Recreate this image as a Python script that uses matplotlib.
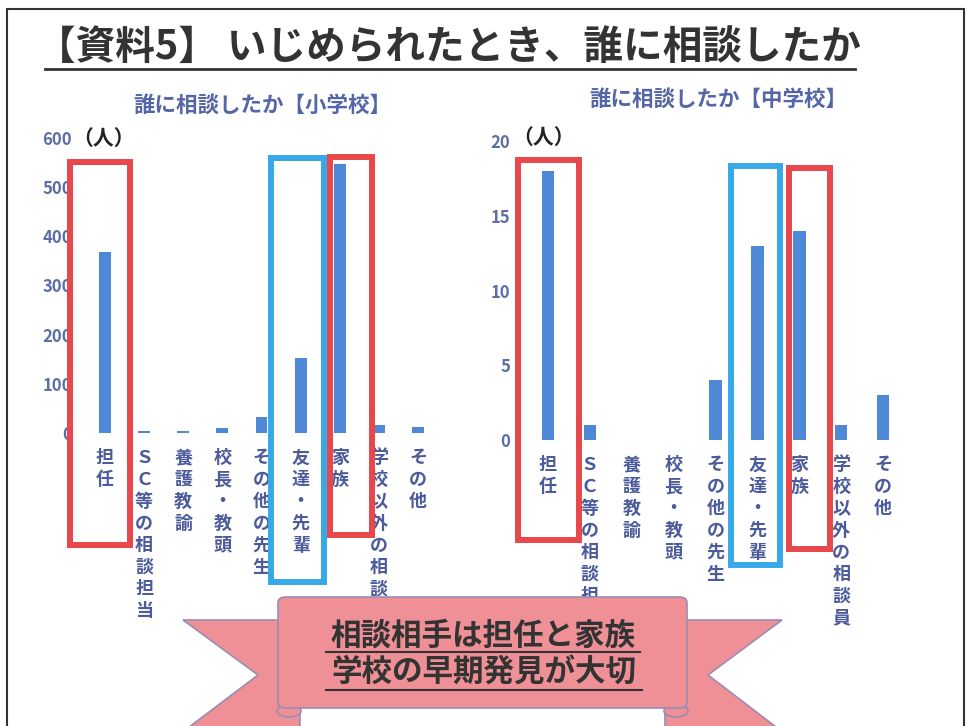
import matplotlib
matplotlib.use('Agg')
import matplotlib.pyplot as plt
from matplotlib.patches import Rectangle, Polygon, FancyBboxPatch, Ellipse
from matplotlib.lines import Line2D

plt.rcParams['font.family'] = ['Noto Sans CJK JP', 'DejaVu Sans']

# data
categories = ['担任', 'ＳＣ等の相談担当', '養護教諭', '校長・教頭', 'その他の先生',
              '友達・先輩', '家族', '学校以外の相談員', 'その他']
elem_counts = [368, 4, 4, 10, 32, 153, 547, 16, 12]
junior_counts = [18, 1, 0, 0, 4, 13, 14, 1, 3]
elem_ticks = [0, 100, 200, 300, 400, 500, 600]
junior_ticks = [0, 5, 10, 15, 20]

W, H = 971, 726
BAR = '#4F88D6'
LABEL = '#4B5B9B'
RED = '#E8474C'
BLUE = '#38A9E8'


def fx(x):
    return x / W


def fy(y):
    return 1 - y / H


def pts(seq):
    return [(fx(x), fy(y)) for x, y in seq]


fig = plt.figure(figsize=(W / 100, H / 100), dpi=100)
fig.patch.set_facecolor('white')

# slide frame
fig.add_artist(Rectangle((fx(7), fy(760)), fx(957), 751 / H, fill=False,
                         ec='#333333', lw=1.5, transform=fig.transFigure))

# main title with underline
fig.text(fx(448), fy(47), '【資料5】 いじめられたとき、誰に相談したか',
         ha='center', va='center', fontsize=28.5, fontweight='bold', color='#333333')
fig.add_artist(Line2D([fx(45), fx(855)], [fy(69), fy(69)], color='#333333', lw=2))


def draw_chart(rect, values, ticks, ymax, pad, subtitle, sub_xy, unit_xy, boxes, label_pad):
    ax = fig.add_axes(rect)
    x = list(range(len(categories)))
    ax.bar(x, values, width=0.3, color=BAR, zorder=3)
    ax.set_xlim(-0.5, len(categories) - 0.5)
    ax.set_ylim(0, ymax)
    ax.set_yticks(ticks)
    ax.set_xticks(x)
    ax.set_xticklabels(['\n'.join(c) for c in categories], va='top', linespacing=1.19,
                       fontsize=13, fontweight='bold', color=LABEL)
    ax.tick_params(axis='y', length=0, pad=pad, labelsize=12, labelcolor='#5B6FA6')
    ax.tick_params(axis='x', length=0, pad=label_pad)
    for lab in ax.get_yticklabels():
        lab.set_fontweight('bold')
    for s in ax.spines.values():
        s.set_visible(False)
    ax.patch.set_alpha(0)

    # highlight frames drawn around categories
    for idx, left, right, top, bottom, color in boxes:
        ax.add_patch(Rectangle((idx + left, bottom), right - left, top - bottom,
                               fill=False, ec=color, lw=4.3, clip_on=False, zorder=5))

    fig.text(fx(sub_xy[0]), fy(sub_xy[1]), subtitle, ha='center', va='center',
             fontsize=15.5, fontweight='bold', color='#5466A6')
    fig.text(fx(unit_xy[0]), fy(unit_xy[1]), '（人）', ha='left', va='center',
             fontsize=15, fontweight='bold', color='#222222')
    return ax


# elementary school chart
draw_chart([fx(85.4), fy(433), 352.2 / W, 295 / H], elem_counts, elem_ticks, 600, 9.5,
           '誰に相談したか【小学校】', (262, 105), (72, 138),
           [(0, -0.89, 0.64, 551, -227, RED),
            (5, -0.76, 0.60, 559, -304, BLUE),
            (6, -0.25, 0.82, 561, -208, RED)], 11)

# junior high school chart
draw_chart([fx(527), fy(440), 377 / W, 299 / H], junior_counts, junior_ticks, 20, 12,
           '誰に相談したか【中学校】', (718, 99), (512, 137),
           [(0, -0.72, 0.74, 18.73, -6.67, RED),
            (5, -0.62, 0.53, 18.33, -8.33, BLUE),
            (6, -0.24, 0.74, 18.2, -7.27, RED)], 11)

# ribbon banner at the bottom
PINK = '#EF9096'
EDGE = '#9A8CB4'
fig.add_artist(Polygon(pts([(183, 620), (300, 620), (300, 740), (172, 740), (258, 675)]),
                       closed=True, fc=PINK, ec=EDGE, lw=1.2, transform=fig.transFigure, zorder=10))
fig.add_artist(Polygon(pts([(665, 620), (782, 620), (708, 675), (793, 740), (665, 740)]),
                       closed=True, fc=PINK, ec=EDGE, lw=1.2, transform=fig.transFigure, zorder=10))
for cx in (289, 676):
    fig.add_artist(Ellipse((fx(cx), fy(711)), 24 / W, 12 / H, fc=PINK, ec=EDGE, lw=1.2,
                           transform=fig.transFigure, zorder=10.5))
fig.add_artist(FancyBboxPatch((fx(278), fy(708)), 409 / W, 111 / H,
                              boxstyle='round,pad=0,rounding_size=0.008',
                              fc=PINK, ec=EDGE, lw=1.2, transform=fig.transFigure, zorder=11))

fig.text(fx(483), fy(636), '相談相手は担任と家族', ha='center', va='center',
         fontsize=22, fontweight='bold', color='#333333', zorder=12)
fig.text(fx(484), fy(673), '学校の早期発見が大切', ha='center', va='center',
         fontsize=22, fontweight='bold', color='#333333', zorder=12)
fig.add_artist(Line2D([fx(326), fx(640)], [fy(652), fy(652)], color='#333333', lw=1.5, zorder=12))
fig.add_artist(Line2D([fx(326), fx(642)], [fy(690), fy(690)], color='#333333', lw=1.5, zorder=12))

fig.savefig('out.png', dpi=100, facecolor='white')
